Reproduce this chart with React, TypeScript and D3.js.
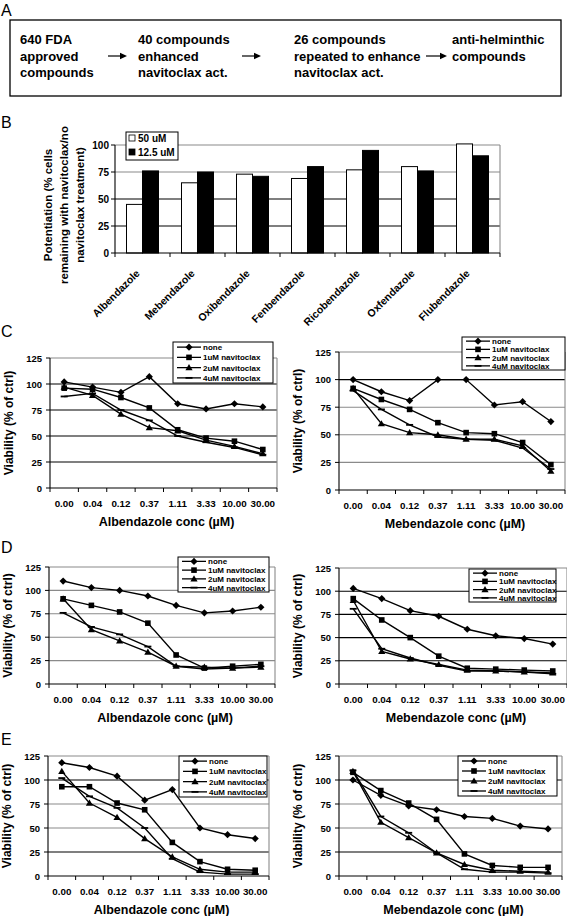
import React from 'react';
import * as d3 from 'd3';

const FONT = '"Liberation Sans", Arial, Helvetica, sans-serif';

// ---------- Panel A ----------
const flowSteps: string[][] = [
  ['640 FDA', 'approved', 'compounds'],
  ['40 compounds', 'enhanced', 'navitoclax act.'],
  ['26 compounds', 'repeated to enhance', 'navitoclax act.'],
  ['anti-helminthic', 'compounds'],
];

// ---------- Panel B ----------
const drugs = ['Albendazole', 'Mebendazole', 'Oxibendazole', 'Fenbendazole', 'Ricobendazole', 'Oxfendazole', 'Flubendazole'];
const pot50uM = [45, 65, 73, 69, 77, 80, 101];
const pot12uM = [76, 75, 71, 80, 95, 76, 90];
const potTicks = [0, 25, 50, 75, 100];
const barSeriesNames = ['50 uM', '12.5 uM'];
const potTitle = ['Potentiation (% cells', 'remaining with navitoclax/no', 'navitoclax treatment)'];

// ---------- Panels C-E ----------
const concLabels = ['0.00', '0.04', '0.12', '0.37', '1.11', '3.33', '10.00', '30.00'];
const viabTicks = [0, 25, 50, 75, 100, 125];
const seriesNames = ['none', '1uM navitoclax', '2uM navitoclax', '4uM navitoclax'];

const cAlb = [
  [102, 97, 92, 107, 81, 76, 81, 78],
  [96, 95, 87, 77, 56, 48, 45, 37],
  [97, 89, 71, 58, 55, 46, 40, 33],
  [88, 91, 75, 65, 50, 44, 39, 32],
];
const cMeb = [
  [100, 89, 81, 100, 100, 77, 80, 62],
  [92, 82, 73, 61, 52, 51, 43, 23],
  [92, 60, 52, 50, 46, 46, 40, 17],
  [90, 73, 59, 48, 46, 45, 38, 19],
];
const dAlb = [
  [110, 103, 100, 94, 84, 76, 78, 82],
  [91, 84, 77, 65, 31, 17, 19, 21],
  [91, 58, 46, 34, 19, 18, 17, 18],
  [76, 61, 53, 40, 19, 16, 17, 19],
];
const dMeb = [
  [103, 92, 79, 73, 59, 52, 49, 43],
  [92, 69, 50, 30, 17, 16, 15, 14],
  [90, 35, 27, 21, 15, 14, 13, 12],
  [81, 38, 28, 20, 14, 14, 13, 11],
];
const eAlb = [
  [118, 113, 104, 79, 90, 50, 43, 39],
  [93, 93, 76, 69, 35, 15, 7, 6],
  [109, 76, 61, 39, 20, 7, 4, 4],
  [102, 83, 71, 50, 18, 4, 2, 2],
];
const eMeb = [
  [100, 84, 73, 69, 62, 60, 52, 49],
  [108, 89, 76, 59, 23, 11, 9, 9],
  [109, 56, 40, 24, 12, 6, 5, 4],
  [110, 62, 45, 24, 7, 4, 4, 3],
];

// ---------- layout / style (not data) ----------
const G = '#8a8a8a';
const K = '#000';
const panels = [
  { data: cAlb, drug: 'Albendazole', plot: { x0: 50, x1: 277, yTop: 358, yBot: 488 }, legend: { x: 173, y: 342, w: 100, h: 41 }, grid: [K, K, K, K] },
  { data: cMeb, drug: 'Mebendazole', plot: { x0: 339, x1: 565, yTop: 352, yBot: 490 }, legend: { x: 462, y: 337, w: 103, h: 33 }, grid: [K, G, G, G] },
  { data: dAlb, drug: 'Albendazole', plot: { x0: 49, x1: 275, yTop: 567, yBot: 684 }, legend: { x: 178, y: 557, w: 91, h: 35 }, grid: [G, G, G, G] },
  { data: dMeb, drug: 'Mebendazole', plot: { x0: 339, x1: 567, yTop: 568, yBot: 684 }, legend: { x: 469, y: 569, w: 87, h: 33 }, grid: [K, K, K, K] },
  { data: eAlb, drug: 'Albendazole', plot: { x0: 48, x1: 269, yTop: 756, yBot: 876 }, legend: { x: 179, y: 756, w: 88, h: 41 }, grid: [K, G, G, K] },
  { data: eMeb, drug: 'Mebendazole', plot: { x0: 339, x1: 562, yTop: 756, yBot: 876 }, legend: { x: 458, y: 756, w: 99, h: 40 }, grid: [K, G, G, K] },
];

function marker(kind: number, cx: number, cy: number, key: string) {
  if (kind === 0) return <path key={key} d={`M${cx},${cy - 3.6}L${cx + 3.6},${cy}L${cx},${cy + 3.6}L${cx - 3.6},${cy}Z`} fill="#000" />;
  if (kind === 1) return <rect key={key} x={cx - 2.8} y={cy - 2.8} width={5.6} height={5.6} fill="#000" />;
  if (kind === 2) return <path key={key} d={`M${cx},${cy - 3.6}L${cx + 3.6},${cy + 2.6}L${cx - 3.6},${cy + 2.6}Z`} fill="#000" />;
  return <rect key={key} x={cx - 3.5} y={cy - 0.9} width={7} height={1.8} fill="#000" />;
}

function LinePanel({ cfg }: { cfg: any }) {
  const { plot, legend, data, grid, drug } = cfg;
  const x = d3.scaleBand<string>().domain(concLabels).range([plot.x0, plot.x1]).padding(0);
  const y = d3.scaleLinear().domain([0, 125]).range([plot.yBot, plot.yTop]);
  const bw = x.bandwidth();
  const cx = (i: number) => (x(concLabels[i]) as number) + bw / 2;
  const line = d3.line<number>().x((_, i) => cx(i)).y((d) => y(d));
  const gridTicks = viabTicks.filter((t) => t > 0 && t < 125).reverse();
  return (
    <g>
      {gridTicks.map((t, i) => (
        <line key={'g' + t} x1={plot.x0} x2={plot.x1} y1={y(t)} y2={y(t)} stroke={grid[i]} strokeWidth={1.1} />
      ))}
      <line x1={plot.x0} x2={plot.x1} y1={y(125)} y2={y(125)} stroke={G} strokeWidth={1.1} />
      <line x1={plot.x1} x2={plot.x1} y1={y(125)} y2={y(0)} stroke={G} strokeWidth={1.1} />
      <line x1={plot.x0} x2={plot.x0} y1={y(125)} y2={y(0)} stroke="#000" strokeWidth={1.1} />
      <line x1={plot.x0} x2={plot.x1} y1={y(0)} y2={y(0)} stroke="#000" strokeWidth={1.1} />
      {viabTicks.map((t) => (
        <g key={'yt' + t}>
          <line x1={plot.x0 - 4} x2={plot.x0} y1={y(t)} y2={y(t)} stroke="#000" />
          <text x={plot.x0 - 8} y={y(t) + 3.5} textAnchor="end" fontSize={9.5} fontWeight="bold" fontFamily={FONT}>{t}</text>
        </g>
      ))}
      {d3.range(concLabels.length + 1).map((i) => (
        <line key={'xt' + i} x1={plot.x0 + i * bw} x2={plot.x0 + i * bw} y1={y(0)} y2={y(0) + 4} stroke="#000" />
      ))}
      {concLabels.map((c, i) => (
        <text key={'xl' + c} x={cx(i)} y={y(0) + 19} textAnchor="middle" fontSize={9.8} fontWeight="bold" fontFamily={FONT}>{c}</text>
      ))}
      <text x={(plot.x0 + plot.x1) / 2 + 3} y={y(0) + 38} textAnchor="middle" fontSize={12.5} fontWeight="bold" fontFamily={FONT}>{drug + ' conc (\u00b5M)'}</text>
      <text transform={`translate(${plot.x0 - 37},${(plot.yTop + plot.yBot) / 2}) rotate(-90)`} textAnchor="middle" fontSize={12} fontWeight="bold" fontFamily={FONT}>Viability (% of ctrl)</text>
      {data.map((s: number[], k: number) => (
        <g key={'s' + k}>
          <path d={line(s) || ''} fill="none" stroke="#000" strokeWidth={1.4} />
          {s.map((v, i) => marker(k, cx(i), y(v), 'm' + k + '-' + i))}
        </g>
      ))}
      <rect x={legend.x} y={legend.y} width={legend.w} height={legend.h} fill="#fff" stroke="#000" strokeWidth={1} />
      {seriesNames.map((n, k) => {
        const iy = legend.y + (k + 0.5) * (legend.h / seriesNames.length);
        return (
          <g key={'lg' + k}>
            <line x1={legend.x + 4} x2={legend.x + 28} y1={iy} y2={iy} stroke="#000" strokeWidth={1.3} />
            {marker(k, legend.x + 16, iy, 'lm' + k)}
            <text x={legend.x + 30} y={iy + 3} fontSize={8} fontWeight="bold" fontFamily={FONT}>{n}</text>
          </g>
        );
      })}
    </g>
  );
}

function BarPanel() {
  const plot = { x0: 115, x1: 500, yTop: 145, yBot: 253 };
  const x = d3.scaleBand<string>().domain(drugs).range([plot.x0, plot.x1]).padding(0);
  const y = d3.scaleLinear().domain([0, 100]).range([plot.yBot, plot.yTop]);
  const bw = x.bandwidth();
  const barW = 16;
  const gridCols: Record<number, string> = { 25: K, 50: K, 75: G };
  return (
    <g>
      {potTicks.filter((t) => t > 0 && t < 100).map((t) => (
        <line key={'g' + t} x1={plot.x0} x2={plot.x1} y1={y(t)} y2={y(t)} stroke={gridCols[t]} strokeWidth={1.1} />
      ))}
      <line x1={plot.x0} x2={plot.x1} y1={y(100)} y2={y(100)} stroke={G} strokeWidth={1.1} />
      <line x1={plot.x1} x2={plot.x1} y1={y(100)} y2={y(0)} stroke={G} strokeWidth={1.1} />
      {drugs.map((d, i) => {
        const bx = (x(d) as number) + bw / 2 - barW;
        return (
          <g key={d}>
            <rect x={bx} y={y(pot50uM[i])} width={barW} height={y(0) - y(pot50uM[i])} fill="#fff" stroke="#000" strokeWidth={1} />
            <rect x={bx + barW} y={y(pot12uM[i])} width={barW} height={y(0) - y(pot12uM[i])} fill="#000" stroke="#000" strokeWidth={1} />
            <text transform={`translate(${(x(d) as number) + bw / 2 - 2},${plot.yBot + 21}) rotate(-45)`} textAnchor="end" fontSize={10.5} fontWeight="bold" fontFamily={FONT}>{d}</text>
          </g>
        );
      })}
      <line x1={plot.x0} x2={plot.x0} y1={y(100)} y2={y(0)} stroke="#000" strokeWidth={1.1} />
      <line x1={plot.x0} x2={plot.x1} y1={y(0)} y2={y(0)} stroke="#000" strokeWidth={1.1} />
      {potTicks.map((t) => (
        <g key={'yt' + t}>
          <line x1={plot.x0 - 4} x2={plot.x0} y1={y(t)} y2={y(t)} stroke="#000" />
          <text x={plot.x0 - 6} y={y(t) + 3.5} textAnchor="end" fontSize={10} fontWeight="bold" fontFamily={FONT}>{t}</text>
        </g>
      ))}
      {d3.range(drugs.length + 1).map((i) => (
        <line key={'xt' + i} x1={plot.x0 + i * bw} x2={plot.x0 + i * bw} y1={y(0)} y2={y(0) + 4} stroke="#000" />
      ))}
      {potTitle.map((l, i) => (
        <text key={l} transform={`translate(${52 + i * 16},205) rotate(-90)`} textAnchor="middle" fontSize={11.5} fontWeight="bold" fontFamily={FONT}>{l}</text>
      ))}
      <rect x={126} y={132} width={52} height={28} fill="#fff" stroke="#000" strokeWidth={1} />
      {barSeriesNames.map((n, k) => (
        <g key={n}>
          <rect x={129} y={135 + k * 14} width={6} height={6} fill={k === 0 ? '#fff' : '#000'} stroke="#000" strokeWidth={0.8} />
          <text x={138} y={141.5 + k * 14} fontSize={10} fontWeight="bold" fontFamily={FONT}>{n}</text>
        </g>
      ))}
    </g>
  );
}

function FlowPanel() {
  const colX = [20, 138, 294, 452];
  const arrows = [[108, 127], [242, 261], [426, 447]];
  const lineY = [44, 60.5, 77];
  return (
    <g>
      <rect x={10} y={20} width={551} height={76} fill="#fff" stroke="#000" strokeWidth={1.3} />
      {flowSteps.map((lines, i) => (
        <g key={i}>
          {lines.map((l, j) => (
            <text key={j} x={colX[i]} y={lineY[j]} fontSize={13} fontWeight="bold" fontFamily={FONT}>{l}</text>
          ))}
        </g>
      ))}
      {arrows.map(([a, b], i) => (
        <g key={'a' + i}>
          <line x1={a} x2={b - 5} y1={56} y2={56} stroke="#000" strokeWidth={1.2} />
          <path d={`M${b},56L${b - 7},52.8L${b - 7},59.2Z`} fill="#000" />
        </g>
      ))}
    </g>
  );
}

export default function App() {
  const letters: [string, number][] = [['A', 16], ['B', 128], ['C', 337], ['D', 553], ['E', 745]];
  return (
    <svg width={567} height={916} style={{ position: 'absolute', left: 0, top: 0, background: '#fff' }}>
      <rect x={0} y={0} width={567} height={916} fill="#fff" />
      {letters.map(([l, yy]) => (
        <text key={l} x={1} y={yy} fontSize={16} fontFamily={FONT}>{l}</text>
      ))}
      <FlowPanel />
      <BarPanel />
      {panels.map((p, i) => (
        <LinePanel key={i} cfg={p} />
      ))}
    </svg>
  );
}
